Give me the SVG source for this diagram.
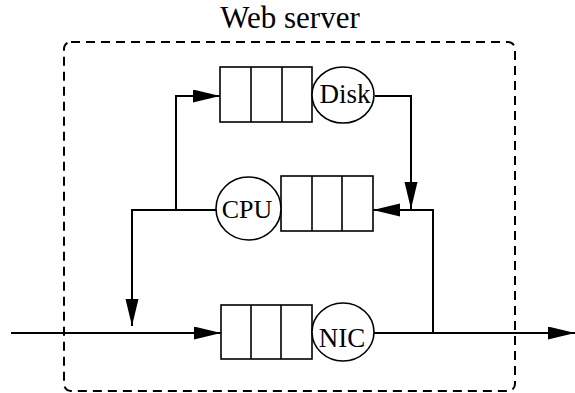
<svg xmlns="http://www.w3.org/2000/svg" width="575" height="393" viewBox="0 0 575 393">
  <style>
    .frame { fill: none; stroke: #000; stroke-width: 2; stroke-dasharray: 9 6; }
    .queue { fill: #fff; stroke: #000; stroke-width: 1.6; }
    .server { fill: #fff; stroke: #000; stroke-width: 1.6; }
    .wire { fill: none; stroke: #000; stroke-width: 2; }
    .label { font-family: "Liberation Serif", "Times New Roman", serif; fill: #000; text-anchor: middle; }
  </style>
  <defs>
    <marker id="head" markerUnits="userSpaceOnUse" markerWidth="28" markerHeight="14" refX="27" refY="6.5" orient="auto">
      <path d="M0,0 L27,6.5 L0,13 z" fill="#000"/>
    </marker>
  </defs>
  <rect width="575" height="393" fill="#fff"/>

  <!-- outer system boundary -->
  <g id="web-server">
    <rect class="frame" x="64" y="42" width="451" height="349" rx="7"/>
    <text class="label" x="290" y="28" font-size="31">Web server</text>
  </g>

  <!-- connectors -->
  <g id="connectors">
    <path class="wire" d="M11,333 H221" marker-end="url(#head)"/>
    <path class="wire" d="M374,333 H575" marker-end="url(#head)"/>
    <path class="wire" d="M433,333 V210 H373" marker-end="url(#head)"/>
    <path class="wire" d="M375,96 H411 V209" marker-end="url(#head)"/>
    <path class="wire" d="M216,210 H132 V326" marker-end="url(#head)"/>
    <path class="wire" d="M176,210 V96 H220" marker-end="url(#head)"/>
  </g>

  <!-- disk station -->
  <g id="disk">
    <rect class="queue" x="220" y="67" width="92" height="55"/>
    <path class="queue" d="M251,67 V122 M282,67 V122"/>
    <ellipse class="server" cx="343" cy="95" rx="31" ry="28"/>
    <text class="label" x="345" y="103" font-size="27">Disk</text>
  </g>

  <!-- cpu station -->
  <g id="cpu">
    <rect class="queue" x="281" y="176" width="92" height="55"/>
    <path class="queue" d="M312,176 V231 M342,176 V231"/>
    <ellipse class="server" cx="248.5" cy="208.5" rx="32.5" ry="31.5"/>
    <text class="label" x="247" y="218" font-size="26">CPU</text>
  </g>

  <!-- network interface station -->
  <g id="nic">
    <rect class="queue" x="221" y="305" width="91" height="54"/>
    <path class="queue" d="M251,305 V359 M281,305 V359"/>
    <ellipse class="server" cx="343" cy="332" rx="31" ry="29"/>
    <text class="label" x="342" y="347" font-size="27">NIC</text>
  </g>
</svg>
